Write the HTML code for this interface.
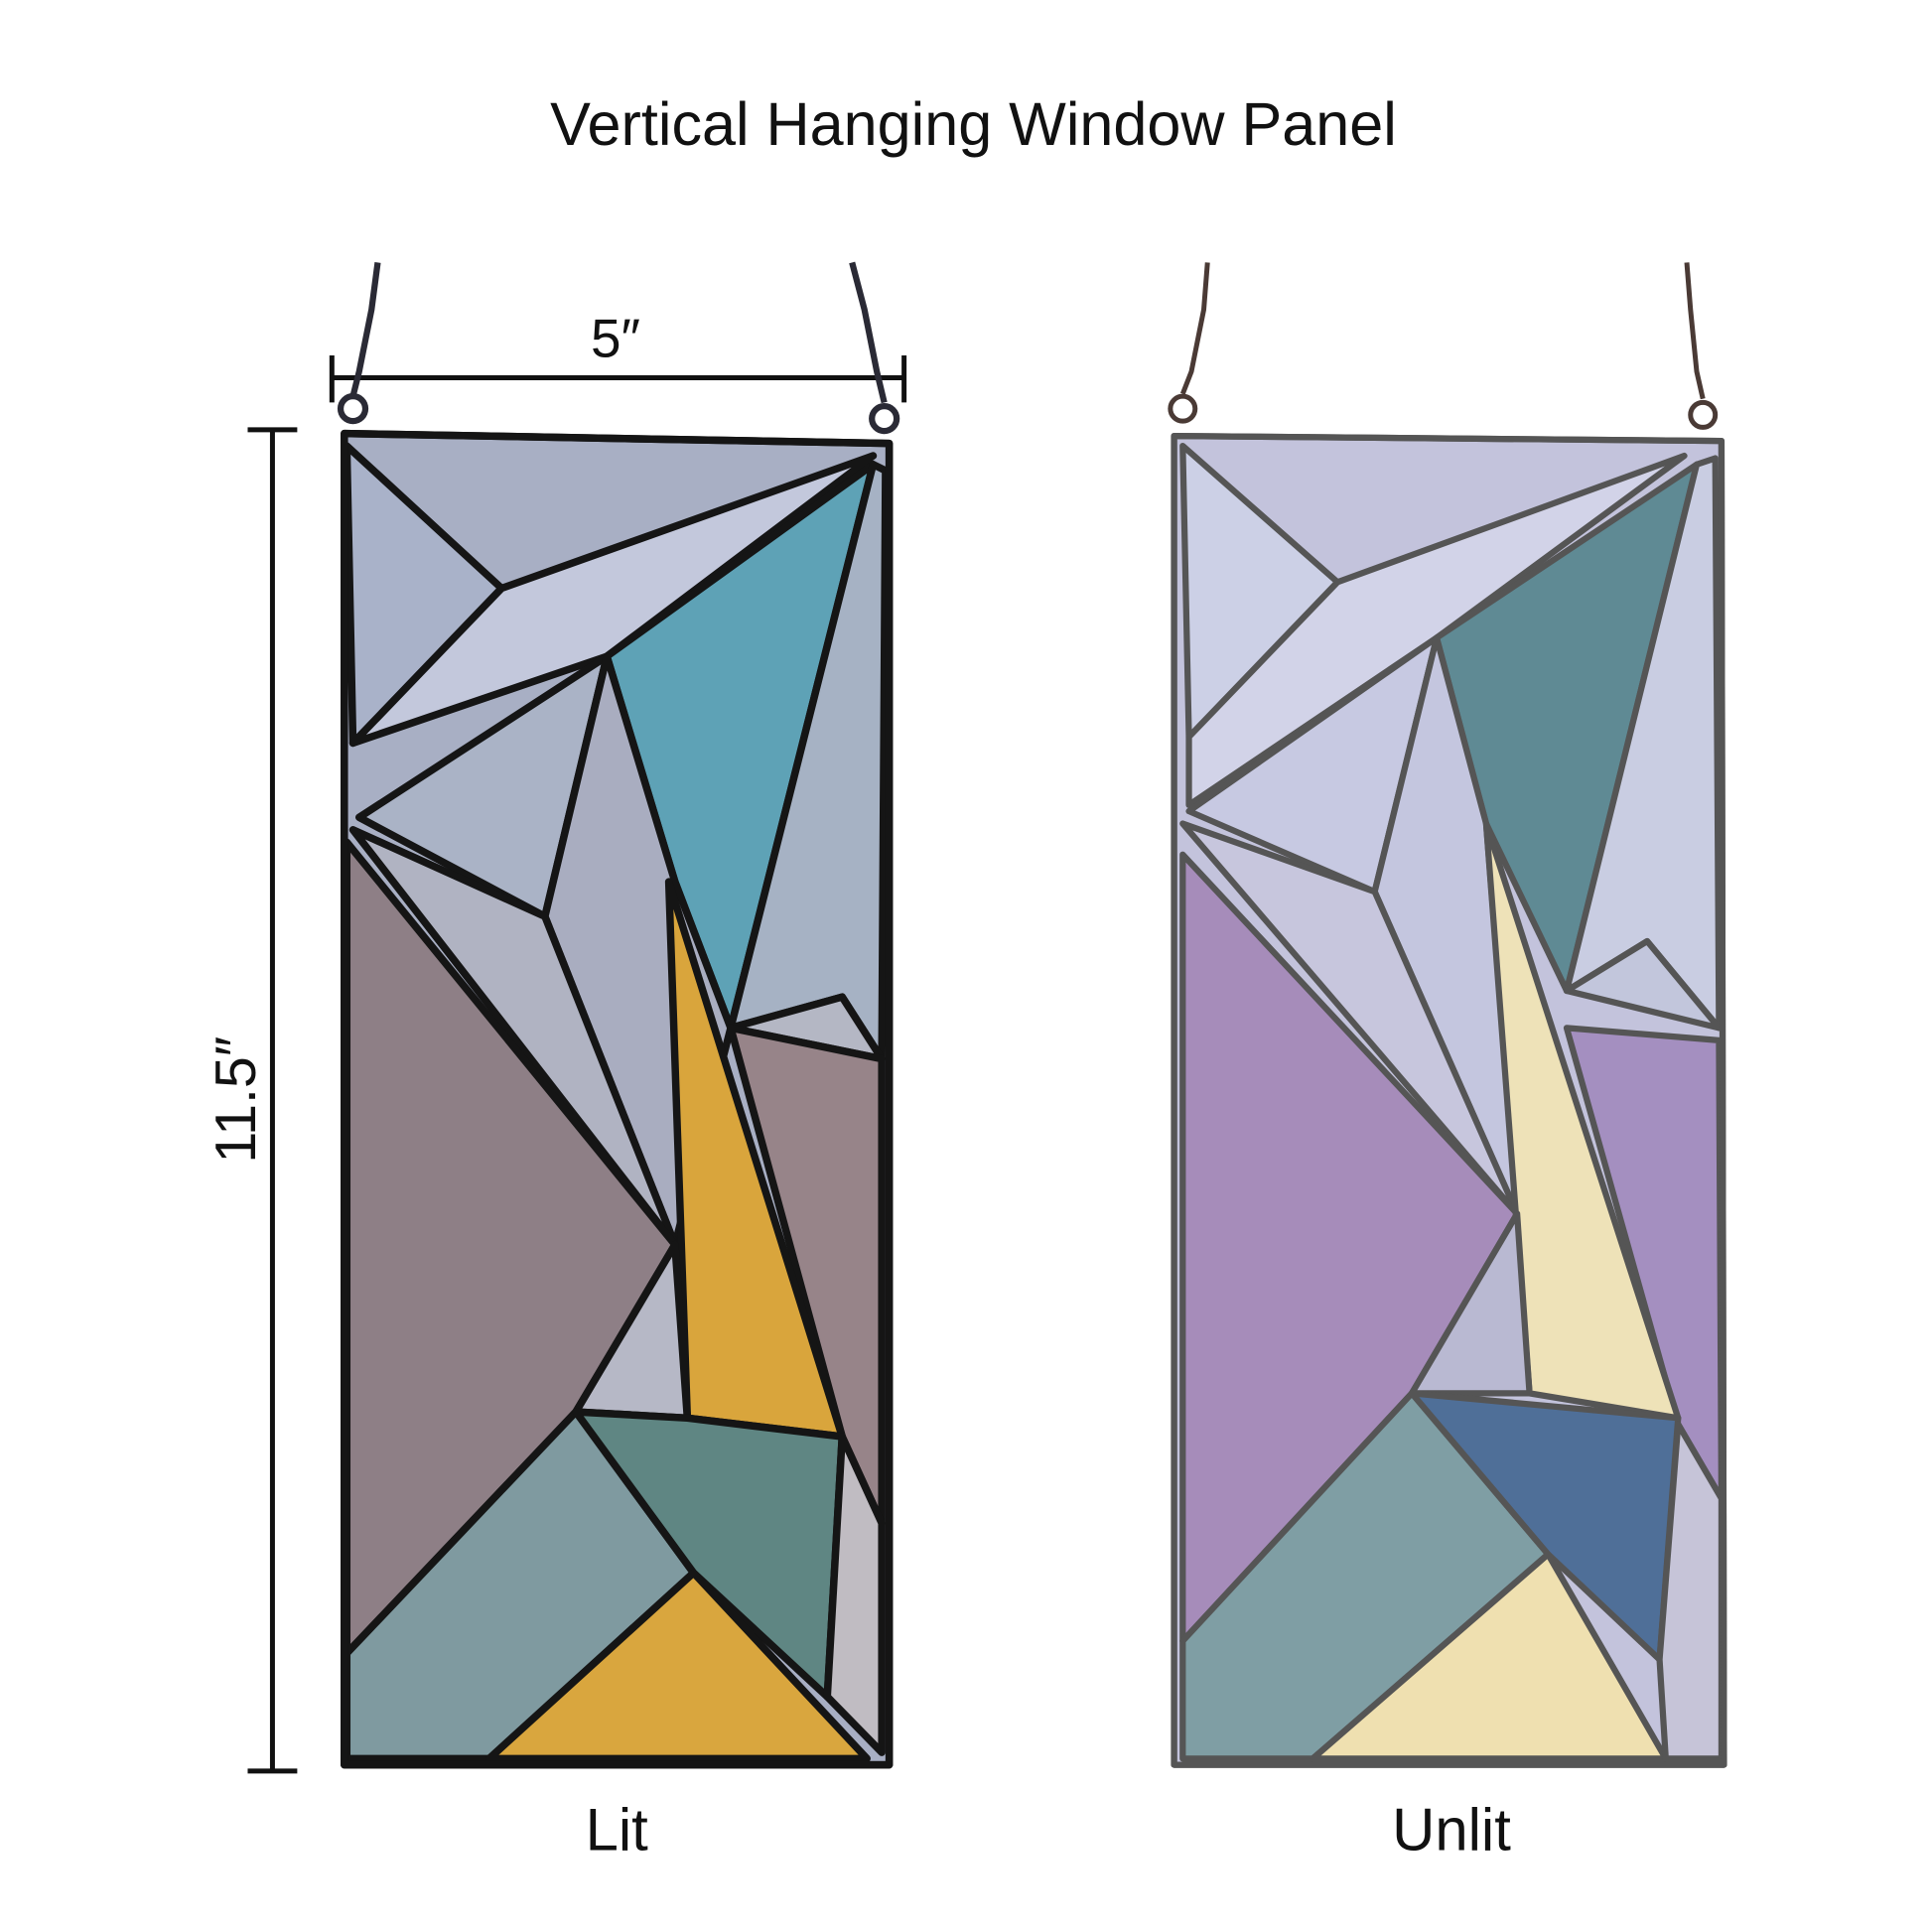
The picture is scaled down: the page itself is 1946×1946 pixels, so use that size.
<!DOCTYPE html>
<html><head><meta charset="utf-8"><style>
html,body{margin:0;padding:0;background:#fff}
svg{display:block}
text{font-family:"Liberation Sans",sans-serif;fill:#111}
</style></head><body>
<svg width="1946" height="1946" viewBox="0 0 1560 1560" xmlns="http://www.w3.org/2000/svg">
<rect width="1560" height="1560" fill="#fff"/>
<text x="786" y="117" font-size="49" text-anchor="middle">Vertical Hanging Window Panel</text>
<text x="497" y="288" font-size="44" text-anchor="middle">5″</text>
<text x="0" y="0" font-size="46" text-anchor="middle" transform="translate(206,888) rotate(-90)">11.5″</text>
<text x="498" y="1494" font-size="48" text-anchor="middle">Lit</text>
<text x="1172" y="1494" font-size="48" text-anchor="middle">Unlit</text>
<g stroke="#111" stroke-width="4" fill="none">
<line x1="268" y1="305" x2="730" y2="305"/><line x1="268" y1="287" x2="268" y2="325"/><line x1="730" y1="287" x2="730" y2="325"/>
<line x1="220" y1="347" x2="220" y2="1430"/><line x1="200" y1="347" x2="240" y2="347"/><line x1="200" y1="1430" x2="240" y2="1430"/>
</g>
<g stroke="#2a2a35" stroke-width="5" fill="none">
<path d="M305 212 L300 250 L290 300 L285 320"/><circle cx="285" cy="330" r="10"/>
<path d="M688 212 L698 250 L708 300 L714 325"/><circle cx="714" cy="338" r="10"/>
</g>
<g stroke="#4a3a35" stroke-width="4" fill="none">
<path d="M975 212 L972 250 L962 300 L955 318"/><circle cx="955" cy="330" r="10"/>
<path d="M1362 212 L1365 250 L1370 300 L1375 322"/><circle cx="1375" cy="335" r="10"/>
</g>
<g stroke="#151515" stroke-width="6" stroke-linejoin="round">
<polygon points="278,350 718,358 718,1425 278,1425" fill="#a8afc4"/>
<polygon points="280,360 405,475 285,600" fill="#a9b2c9"/>
<polygon points="405,475 705,368 490,530 285,600" fill="#c3c8dc"/>
<polygon points="490,530 705,375 590,830 545,712" fill="#5ea2b6"/>
<polygon points="290,660 490,530 440,740" fill="#aab3c6"/>
<polygon points="490,530 545,712 590,830 545,1005 440,740" fill="#a9adc0"/>
<polygon points="285,670 440,740 545,1005" fill="#b0b3c2"/>
<polygon points="705,375 715,380 712,855 680,805 590,830" fill="#a6b2c4"/>
<polygon points="590,830 680,805 712,855" fill="#b4b7c4"/>
<polygon points="280,680 545,1005 465,1140 280,1335" fill="#8e7f86"/>
<polygon points="590,830 712,855 712,1230 680,1160" fill="#978489"/>
<polygon points="540,712 680,1160 555,1145" fill="#d9a53c"/>
<polygon points="465,1140 545,1005 555,1145" fill="#b6b8c6"/>
<polygon points="280,1335 465,1140 560,1270 395,1420 280,1420" fill="#7f9aa0"/>
<polygon points="465,1140 555,1145 680,1160 668,1370 560,1270" fill="#5f8683"/>
<polygon points="395,1420 560,1270 700,1420" fill="#d9a63e"/>
<polygon points="680,1160 712,1230 712,1415 668,1370" fill="#c0bcc2"/>
<polygon points="278,350 718,358 718,1425 278,1425" fill="none"/>
</g>
<g stroke="#555" stroke-width="5" stroke-linejoin="round">
<polygon points="948,352 1390,356 1392,1425 948,1425" fill="#c3c3dc"/>
<polygon points="955,360 1080,470 960,595" fill="#ccd0e6"/>
<polygon points="1080,470 1360,368 1160,515 960,650 960,595" fill="#d2d3e8"/>
<polygon points="1160,515 1370,375 1265,800 1200,665" fill="#5f8a94"/>
<polygon points="960,655 1160,515 1110,720" fill="#c7c9e2"/>
<polygon points="1160,515 1200,665 1225,980 1110,720" fill="#c4c6df"/>
<polygon points="955,665 1110,720 1225,980" fill="#c7c6dd"/>
<polygon points="1370,375 1385,370 1388,830 1330,760 1265,800" fill="#c9cde2"/>
<polygon points="1265,800 1330,760 1388,830" fill="#c2c6dc"/>
<polygon points="955,690 1225,980 1140,1125 955,1325" fill="#a68cba"/>
<polygon points="1265,830 1388,840 1390,1210 1355,1150" fill="#a48fc0"/>
<polygon points="1200,665 1355,1145 1235,1125" fill="#eee2b8"/>
<polygon points="1140,1125 1225,980 1235,1125" fill="#b9b9d2"/>
<polygon points="955,1325 1140,1125 1250,1255 1060,1420 955,1420" fill="#7f9ea4"/>
<polygon points="1140,1125 1355,1145 1340,1340 1250,1255" fill="#4f6f98"/>
<polygon points="1060,1420 1250,1255 1345,1420" fill="#efe0b0"/>
<polygon points="1355,1150 1390,1210 1390,1420 1345,1420 1340,1340" fill="#c6c4d8"/>
<polygon points="948,352 1390,356 1392,1425 948,1425" fill="none"/>
</g>
</svg>
</body></html>
